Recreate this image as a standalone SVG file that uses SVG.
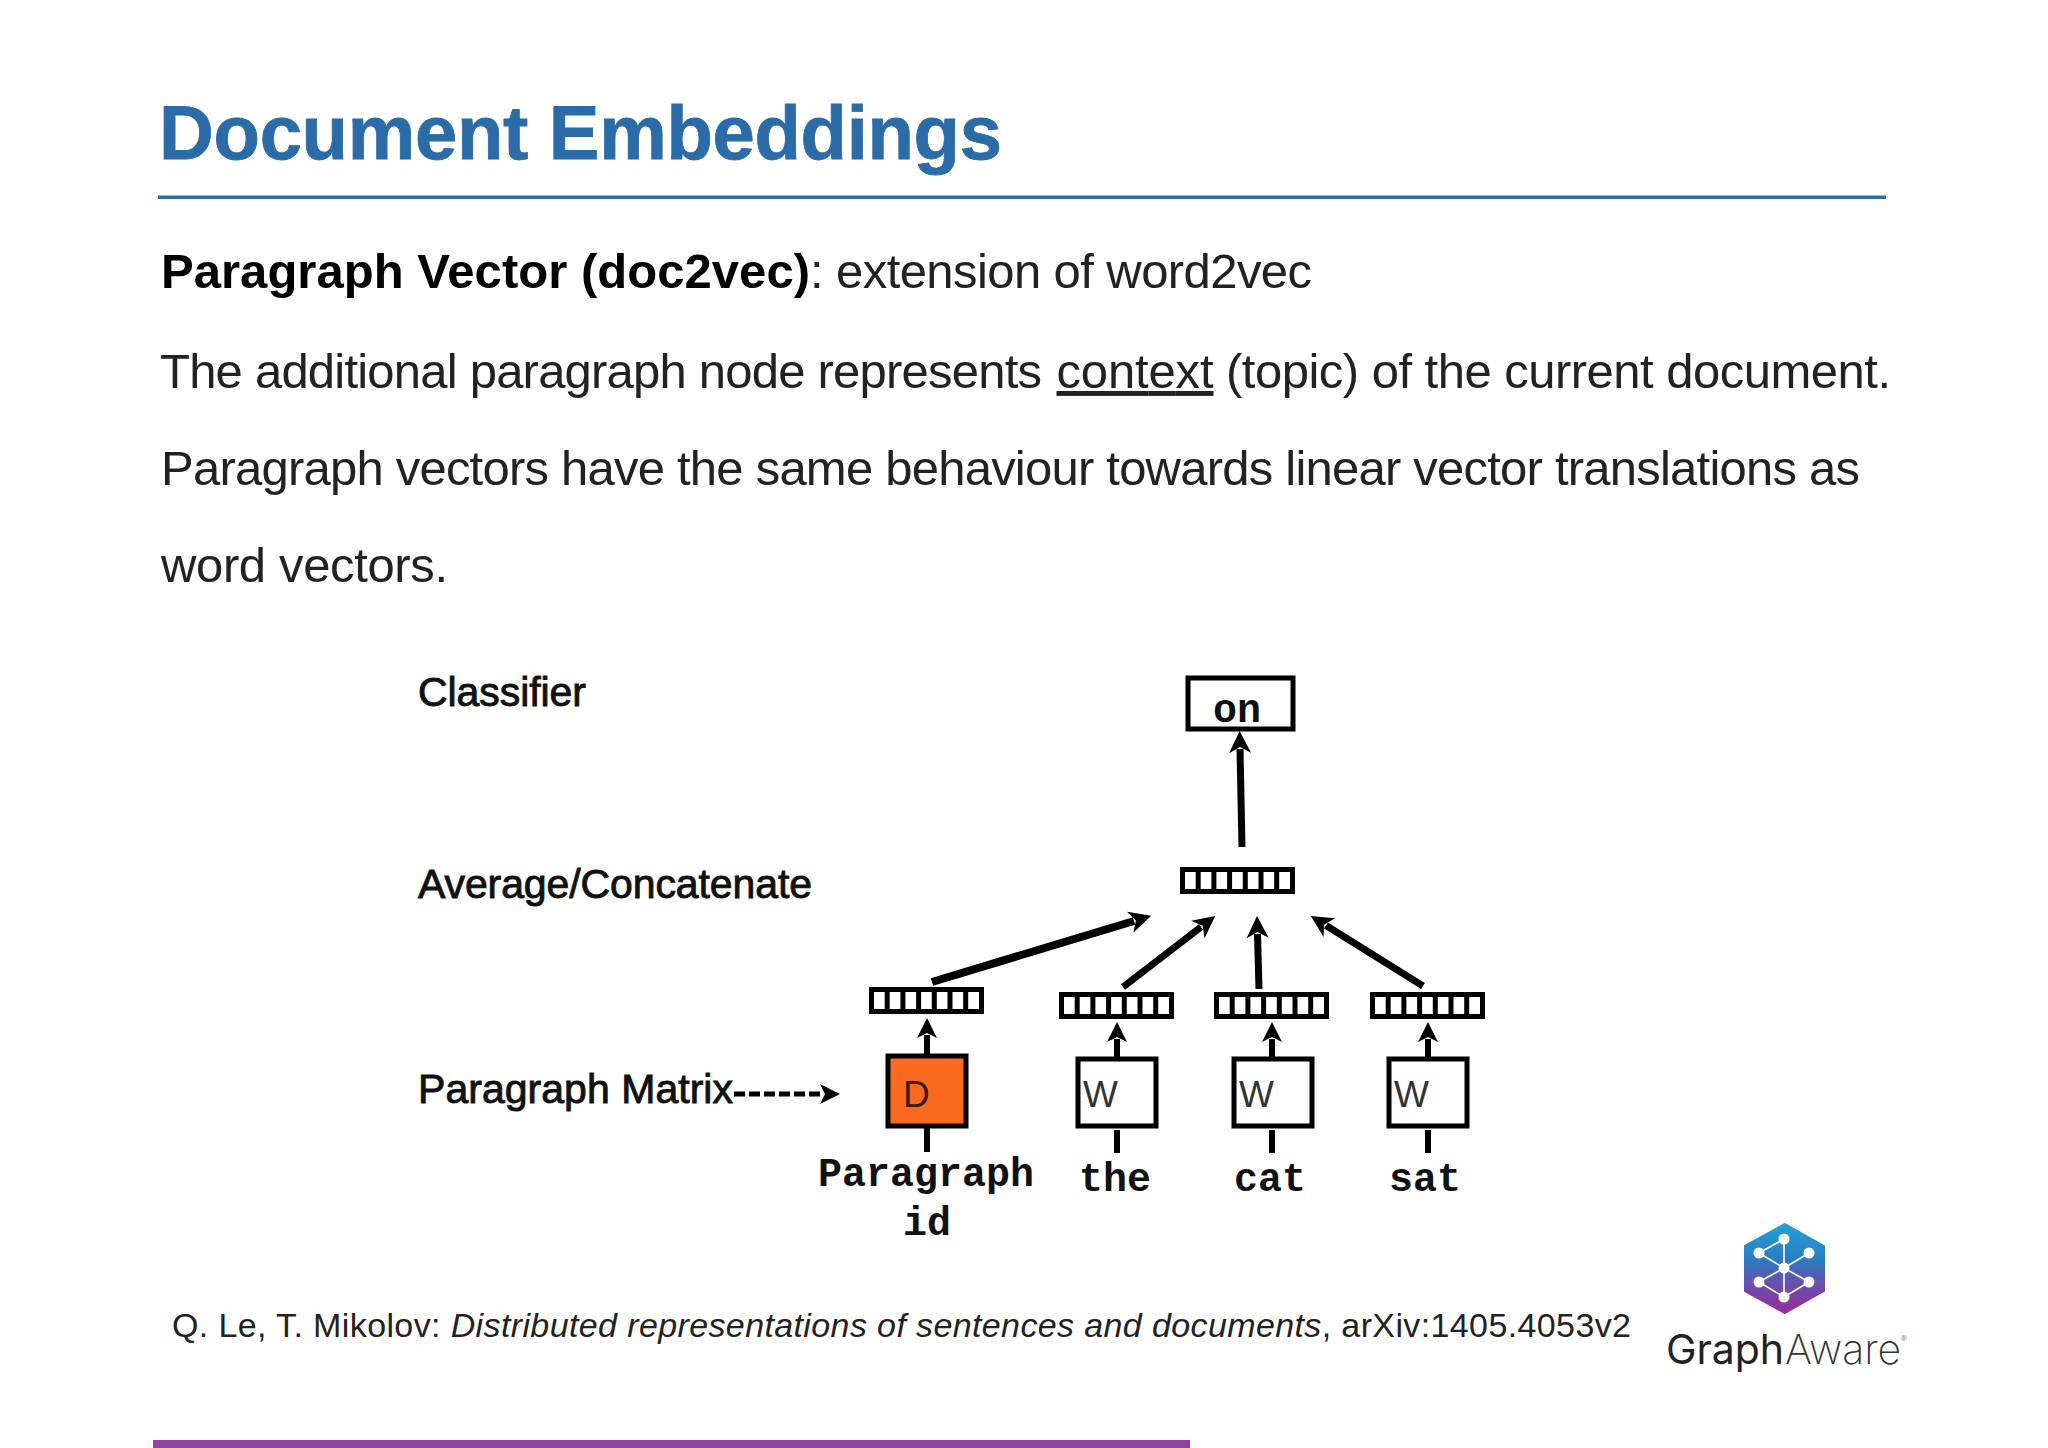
<svg xmlns="http://www.w3.org/2000/svg" width="2048" height="1448" viewBox="0 0 2048 1448">
<style>
text{font-family:"Liberation Sans",Arial,sans-serif}
.title{font-size:76px;font-weight:700;fill:#2b6ca8;stroke:#2b6ca8;stroke-width:.8}
.body{font-size:49px;fill:#222}
.lab{font-size:41px;fill:#111;stroke:#111;stroke-width:.9}
.mono{font-family:"Liberation Mono",monospace;font-size:40px;font-weight:700;fill:#111;text-anchor:middle}
.cite{font-size:34px;fill:#222}
.box{fill:#fff;stroke:#000;stroke-width:5}
.conn{fill:none;stroke:#000;stroke-width:7}
.thick{stroke-width:8}
.thin{stroke-width:6}
.dash{stroke-width:5;stroke-dasharray:11 4}
.bar{fill:#fff;stroke:#000;stroke-width:5}
.tick{stroke:#000;stroke-width:5}
.lk{fill:none;stroke:#fff;stroke-width:1.6}
.wl{font-size:37px;fill:#333}
</style>
<defs>
<marker id="arrow" markerUnits="userSpaceOnUse" markerWidth="24" markerHeight="24" refX="4" refY="12" orient="auto">
<path d="M22,12 L0,1 L6,12 L0,23 Z" fill="#000"/>
</marker>
<marker id="arrowS" markerUnits="userSpaceOnUse" markerWidth="21" markerHeight="20" refX="3" refY="10" orient="auto">
<path d="M20,10 L0,0 L5,10 L0,20 Z" fill="#000"/>
</marker>
<g id="vec">
<rect class="bar" x="2.500" y="2.500" width="110" height="22"/>
<path class="tick" d="M18.200,2V25M33.900,2V25M49.600,2V25M65.300,2V25M81,2V25M96.700,2V25"/>
</g>
<linearGradient id="hex" x1="0" y1="0" x2="0" y2="1">
<stop offset="0" stop-color="#26a0d8"/><stop offset=".4" stop-color="#2a7cc0"/><stop offset=".6" stop-color="#5a5ab0"/><stop offset="1" stop-color="#9a2a98"/>
</linearGradient>
</defs>
<rect width="2048" height="1448" fill="#fff"/>

<g id="heading">
<text class="title" x="159" y="159" textLength="843">Document Embeddings</text>
<rect x="158" y="195.500" width="1728" height="3.500" fill="#2b6ca8"/>
</g>

<g id="bodytext">
<text class="body" x="161" y="288" textLength="649" font-weight="700" style="fill:#000">Paragraph Vector (doc2vec)</text>
<text class="body" x="810" y="288" textLength="502">: extension of word2vec</text>
<text class="body" x="160" y="388" textLength="882">The additional paragraph node represents</text>
<text class="body" x="1056.500" y="388" textLength="157" text-decoration="underline">context</text>
<text class="body" x="1226" y="388" textLength="665">(topic) of the current document.</text>
<text class="body" x="161" y="485" textLength="1699">Paragraph vectors have the same behaviour towards linear vector translations as</text>
<text class="body" x="161" y="582" textLength="287">word vectors.</text>
</g>

<g id="diagram-labels">
<text class="lab" x="418" y="706" textLength="168">Classifier</text>
<text class="lab" x="418" y="898" textLength="394">Average/Concatenate</text>
<text class="lab" x="418" y="1103" textLength="315">Paragraph Matrix</text>
</g>

<g id="connectors">
<path class="conn" d="M1242,847L1240,749" marker-end="url(#arrow)"/>
<path class="conn thick" d="M932,982L1134,921" marker-end="url(#arrow)"/>
<path class="conn" d="M1123,987L1201,927" marker-end="url(#arrow)"/>
<path class="conn" d="M1259,989L1257.500,934" marker-end="url(#arrow)"/>
<path class="conn" d="M1423,986L1326,925.500" marker-end="url(#arrow)"/>
<path class="conn thin" d="M927,1055V1035" marker-end="url(#arrowS)"/>
<path class="conn thin" d="M1117,1057V1039" marker-end="url(#arrowS)"/>
<path class="conn thin" d="M1272,1057V1039" marker-end="url(#arrowS)"/>
<path class="conn thin" d="M1428,1057V1039" marker-end="url(#arrowS)"/>
<path class="conn thin" d="M927,1127V1152M1117,1130V1153M1272,1130V1153M1428,1130V1153"/>
<path class="conn dash" d="M734,1094H823" marker-end="url(#arrowS)"/>
</g>

<g id="node-on"><rect class="box" x="1188" y="678" width="105" height="51"/><text class="mono" x="1237" y="722">on</text></g>
<use id="node-avg" href="#vec" x="1180" y="867"/>
<use id="node-vec-d" href="#vec" x="869" y="987"/>
<use id="node-vec-the" href="#vec" x="1059" y="992"/>
<use id="node-vec-cat" href="#vec" x="1214" y="992"/>
<use id="node-vec-sat" href="#vec" x="1370" y="992"/>

<g id="node-d"><rect class="box" x="888" y="1056" width="78" height="70" style="fill:#f96a1e"/><text x="903" y="1107" class="wl" style="fill:#3a1a08">D</text></g>
<g id="node-w1"><rect class="box" x="1078" y="1059" width="78" height="67"/><text x="1083" y="1107" class="wl">W</text></g>
<g id="node-w2"><rect class="box" x="1234" y="1059" width="78" height="67"/><text x="1239" y="1107" class="wl">W</text></g>
<g id="node-w3"><rect class="box" x="1389" y="1059" width="78" height="67"/><text x="1394" y="1107" class="wl">W</text></g>

<g id="word-labels">
<text class="mono" x="926" y="1186">Paragraph</text>
<text class="mono" x="927" y="1235">id</text>
<text class="mono" x="1115" y="1191">the</text>
<text class="mono" x="1270" y="1191">cat</text>
<text class="mono" x="1425" y="1191">sat</text>
</g>

<g id="citation">
<text class="cite" x="172" y="1337" textLength="1459">Q. Le, T. Mikolov: <tspan font-style="italic">Distributed representations of sentences and documents</tspan>, arXiv:1405.4053v2</text>
</g>

<g id="logo">
<path d="M1785,1224L1824,1246V1291L1785,1313L1745,1291V1246Z" fill="url(#hex)" stroke="url(#hex)" stroke-width="2" stroke-linejoin="round"/>
<path class="lk" d="M1784,1239V1297M1759,1253L1784,1239M1759,1253L1784,1268L1809,1253M1759,1282L1784,1268L1809,1282M1759,1282L1784,1297L1809,1282"/>
<g fill="#fff"><circle cx="1784" cy="1239" r="5.500"/><circle cx="1759" cy="1253" r="5.500"/><circle cx="1809" cy="1253" r="5.500"/><circle cx="1784" cy="1268" r="5.500"/><circle cx="1759" cy="1282" r="5.500"/><circle cx="1809" cy="1282" r="5.500"/><circle cx="1784" cy="1297" r="5.500"/></g>
<text x="1666" y="1364" font-size="41" fill="#222" textLength="118" style="font-family:Inter,Lato,sans-serif">Graph</text>
<text x="1785" y="1364" font-size="41" font-weight="200" fill="#333" textLength="116" style="font-family:Inter,Lato,sans-serif">Aware</text>
<text x="1901" y="1341" font-size="8" fill="#666">®</text>
</g>

<rect id="footer-bar" x="153" y="1440" width="1037" height="8" fill="#8e44a0"/>
</svg>
